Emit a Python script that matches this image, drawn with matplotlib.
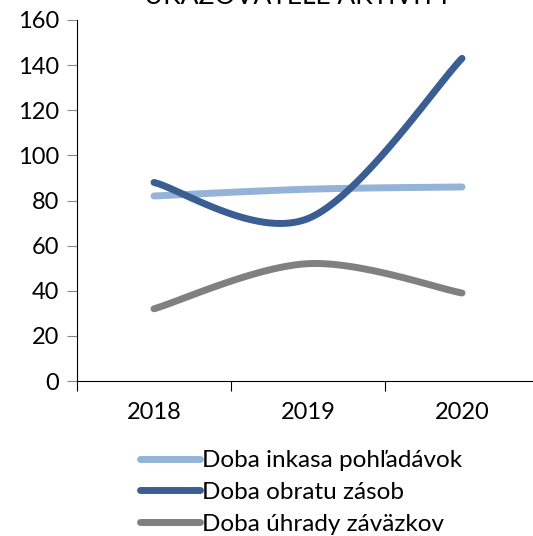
import numpy as np
import matplotlib
matplotlib.use("Agg")
import matplotlib.pyplot as plt

years = ["2018", "2019", "2020"]
inkaso = [82, 85, 86]
zasoby = [88, 72, 143]
zavazky = [32, 52, 39]
series_names = ["Doba inkasa pohľadávok", "Doba obratu zásob", "Doba úhrady záväzkov"]
colors = ["#95B3D7", "#3A5E91", "#808080"]
title = "UKAZOVATELE AKTIVITY"

plt.rcParams['font.family'] = ['Lato', 'DejaVu Sans']


def smooth(xs, ys, n=60):
    xs = np.asarray(xs, float)
    ys = np.asarray(ys, float)
    px = np.concatenate([[xs[0]], xs, [xs[-1]]])
    py = np.concatenate([[ys[0]], ys, [ys[-1]]])
    outx, outy = [], []
    t = np.linspace(0, 1, n)
    for i in range(1, len(px) - 2):
        p0 = np.array([px[i], py[i]])
        p3 = np.array([px[i + 1], py[i + 1]])
        p1 = p0 + (np.array([px[i + 1], py[i + 1]]) - np.array([px[i - 1], py[i - 1]])) / 6
        p2 = p3 - (np.array([px[i + 2], py[i + 2]]) - np.array([px[i], py[i]])) / 6
        b = ((1 - t) ** 3)[:, None] * p0 + (3 * (1 - t) ** 2 * t)[:, None] * p1 \
            + (3 * (1 - t) * t ** 2)[:, None] * p2 + (t ** 3)[:, None] * p3
        outx.extend(b[:, 0]); outy.extend(b[:, 1])
    return np.array(outx), np.array(outy)


fig = plt.figure(figsize=(5.33, 5.36), dpi=100)
ax = fig.add_axes([77 / 533, 1 - 381 / 536, (539 - 77) / 533, (381 - 20) / 536])

xpos = np.arange(len(years)) + 0.5
for vals, name, c in zip([inkaso, zasoby, zavazky], series_names, colors):
    sx, sy = smooth(xpos, vals)
    ax.plot(sx, sy, color=c, lw=5, solid_capstyle='round', label=name)

ax.set_xlim(0, len(years))
ax.set_ylim(0, 160)
ax.set_yticks(np.arange(0, 161, 20))
ax.set_xticks(np.arange(0, len(years) + 1))
ax.set_xticklabels([])
ax.set_xticks(xpos, minor=True)
ax.set_xticklabels(years, minor=True)
ax.tick_params(axis='x', which='minor', length=0, pad=15, labelsize=17)
ax.tick_params(axis='x', which='major', length=7, color='#000000', width=0.8)
ax.tick_params(axis='y', length=7, color='#868686', width=0.8, labelsize=17, pad=6)
for s in ['top', 'right']:
    ax.spines[s].set_visible(False)
for s in ['left', 'bottom']:
    ax.spines[s].set_color('#000000')
    ax.spines[s].set_linewidth(0.8)

fig.text(298 / 533, 1 + 4 / 536, title, ha='center', va='center', fontsize=19)

leg = fig.legend(loc='upper left', bbox_to_anchor=(140 / 533, 1 - 450 / 536),
                 frameon=False, fontsize=17.5, handlelength=2.45, handletextpad=0.1,
                 labelspacing=0.45, borderaxespad=0, borderpad=0)

fig.savefig("out.png", dpi=100)
